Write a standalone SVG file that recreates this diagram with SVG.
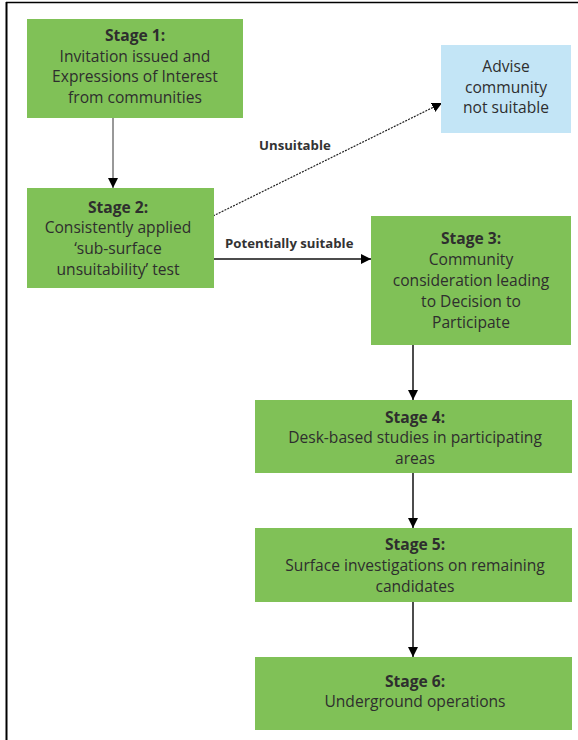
<svg xmlns="http://www.w3.org/2000/svg" width="578" height="740" viewBox="0 0 578 740">
<defs>
<style>
.box{fill:#80c157;}
.adv{fill:#c3e5f6;}
.t{font-family:"Open Sans","Noto Sans","Liberation Sans",sans-serif;font-size:15.6px;fill:#2e2e2e;text-anchor:middle;}
.b{font-weight:bold;}
.lbl{font-family:"Open Sans","Noto Sans","Liberation Sans",sans-serif;font-size:13.2px;font-weight:bold;fill:#333;}
.ln{stroke:#111;stroke-width:1.5;fill:none;}
.thin{stroke:#333;stroke-width:1;fill:none;}
.dot{stroke:#222;stroke-width:1.2;stroke-dasharray:2 1.2;fill:none;}
</style>
<marker id="ah" viewBox="0 0 10 10" refX="10" refY="5" markerWidth="10" markerHeight="10" markerUnits="userSpaceOnUse" orient="auto">
<path d="M0,0 L10,5 L0,10 Z" fill="#000"/>
</marker>
</defs>
<rect width="578" height="740" fill="#fff"/>
<g id="frame">
<line x1="6" y1="2.5" x2="578" y2="2.5" stroke="#000" stroke-width="1.5"/>
<line x1="6.5" y1="2" x2="6.5" y2="740" stroke="#000" stroke-width="2"/>
</g>
<g id="connectors">
<line class="thin" x1="113" y1="118" x2="113" y2="188" marker-end="url(#ah)"/>
<line class="dot" x1="213" y1="216" x2="442" y2="103" marker-end="url(#ah)"/>
<line class="ln" x1="213" y1="259" x2="371" y2="259" marker-end="url(#ah)"/>
<line class="ln" x1="413" y1="345" x2="413" y2="400" marker-end="url(#ah)"/>
<line class="ln" x1="413" y1="473" x2="413" y2="528" marker-end="url(#ah)"/>
<line class="ln" x1="413" y1="602" x2="413" y2="657" marker-end="url(#ah)"/>
<text class="lbl" x="259" y="150">Unsuitable</text>
<text class="lbl" x="225" y="248">Potentially suitable</text>
</g>
<g id="stage1">
<rect class="box" x="27" y="19" width="216" height="99"/>
<text class="t b" x="135" y="41">Stage 1:</text>
<text class="t" x="135" y="62">Invitation issued and</text>
<text class="t" x="135" y="82">Expressions of Interest</text>
<text class="t" x="135" y="103">from communities</text>
</g>
<g id="advise">
<rect class="adv" x="441" y="45" width="130" height="88"/>
<text class="t" x="506" y="72">Advise</text>
<text class="t" x="506" y="93">community</text>
<text class="t" x="506" y="113">not suitable</text>
</g>
<g id="stage2">
<rect class="box" x="27" y="188" width="187" height="100"/>
<text class="t b" x="118" y="213">Stage 2:</text>
<text class="t" x="118" y="233">Consistently applied</text>
<text class="t" x="118" y="254">‘sub-surface</text>
<text class="t" x="118" y="275">unsuitability’ test</text>
</g>
<g id="stage3">
<rect class="box" x="371" y="216" width="200" height="129"/>
<text class="t b" x="471" y="244">Stage 3:</text>
<text class="t" x="471" y="265">Community</text>
<text class="t" x="471" y="286">consideration leading</text>
<text class="t" x="471" y="307">to Decision to</text>
<text class="t" x="471" y="328">Participate</text>
</g>
<g id="stage4">
<rect class="box" x="255" y="400" width="317" height="73"/>
<text class="t b" x="415" y="423">Stage 4:</text>
<text class="t" x="415" y="443">Desk-based studies in participating</text>
<text class="t" x="415" y="464">areas</text>
</g>
<g id="stage5">
<rect class="box" x="255" y="528" width="317" height="74"/>
<text class="t b" x="415" y="550">Stage 5:</text>
<text class="t" x="415" y="571">Surface investigations on remaining</text>
<text class="t" x="415" y="592">candidates</text>
</g>
<g id="stage6">
<rect class="box" x="255" y="657" width="317" height="73"/>
<text class="t b" x="415" y="687">Stage 6:</text>
<text class="t" x="415" y="707">Underground operations</text>
</g>
</svg>
